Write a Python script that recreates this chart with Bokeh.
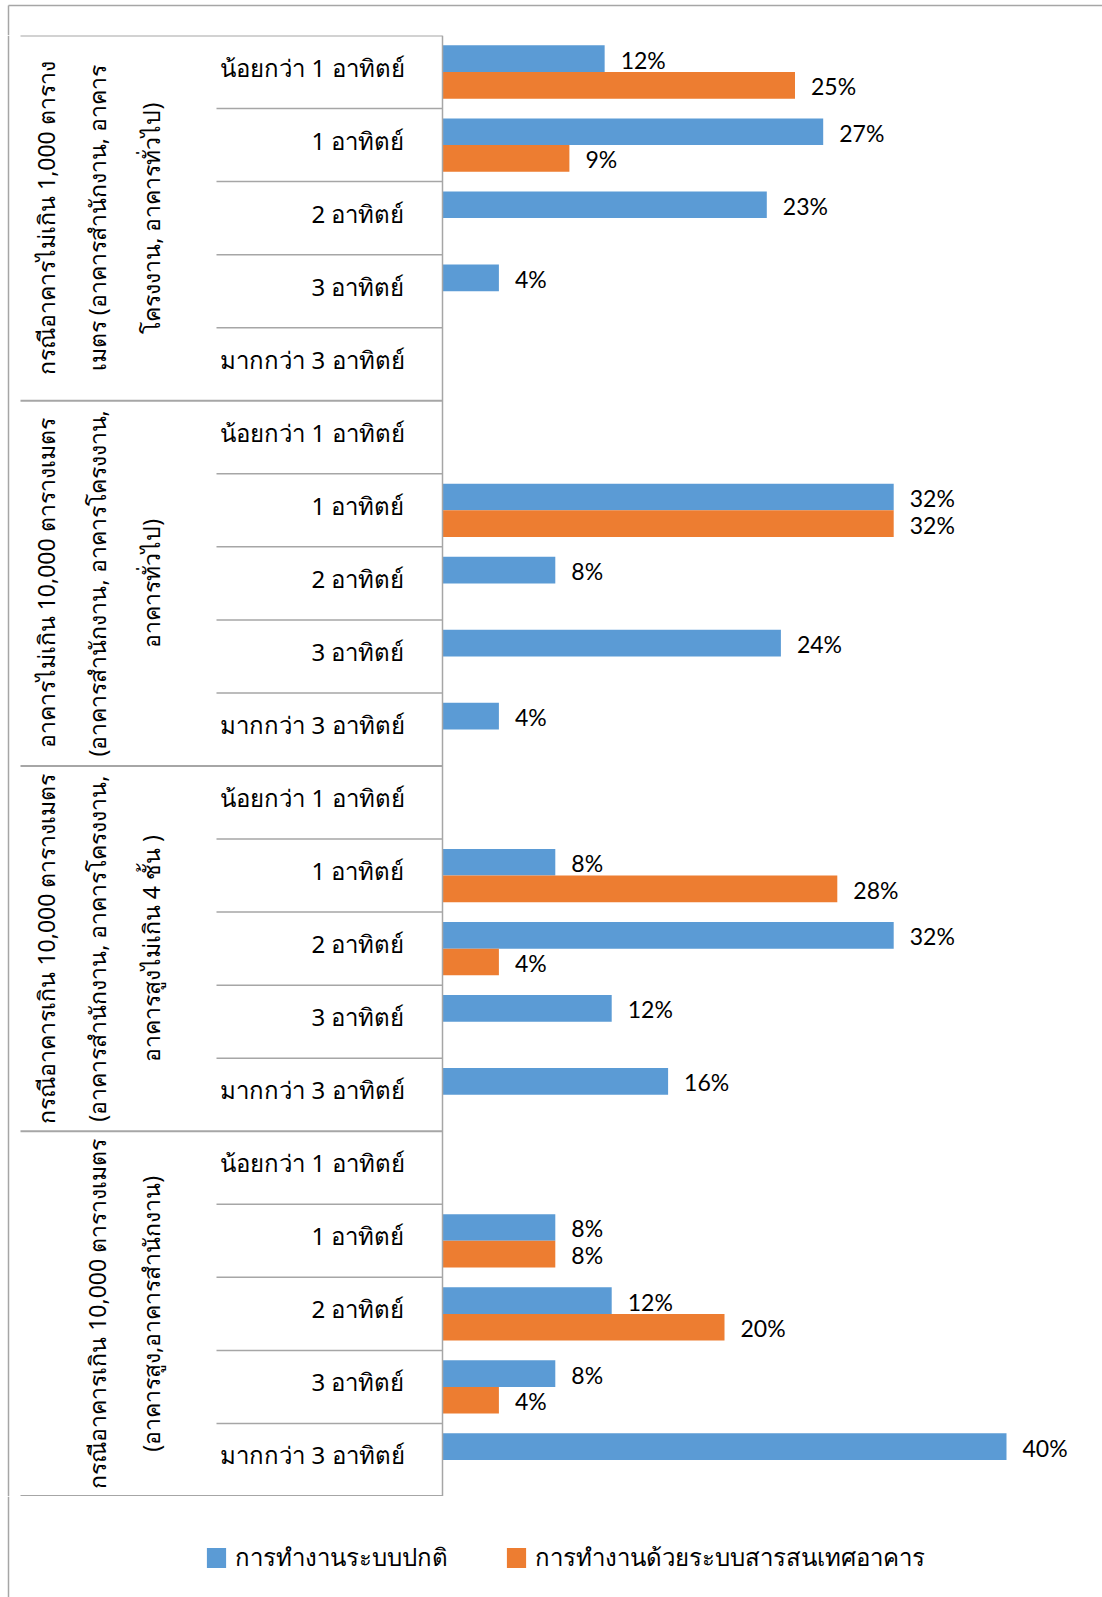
import math
from bokeh.plotting import figure
from bokeh.models import FactorRange, Range1d, ColumnDataSource, Legend, LegendItem, Span
from bokeh.transform import dodge
from bokeh.layouts import column
from bokeh.core.properties import value
from bokeh.embed import file_html
from bokeh.resources import INLINE

# ---------------- data ----------------
group_lines = [
    ["กรณีอาคารไม่เกิน 1,000 ตาราง", "เมตร (อาคารสำนักงาน, อาคาร", "โครงงาน, อาคารทั่วไป)"],
    ["อาคารไม่เกิน 10,000 ตารางเมตร", "(อาคารสำนักงาน, อาคารโครงงาน,", "อาคารทั่วไป)"],
    ["กรณีอาคารเกิน 10,000 ตารางเมตร", "(อาคารสำนักงาน, อาคารโครงงาน,", "อาคารสูงไม่เกิน 4 ชั้น )"],
    ["กรณีอาคารเกิน 10,000 ตารางเมตร", "(อาคารสูง,อาคารสำนักงาน)"],
]
periods = ["น้อยกว่า 1 อาทิตย์", "1 อาทิตย์", "2 อาทิตย์", "3 อาทิตย์", "มากกว่า 3 อาทิตย์"]
series_names = ["การทำงานระบบปกติ", "การทำงานด้วยระบบสารสนเทศอาคาร"]

# percent values, group by group, in the order of `periods` (None = no bar)
normal = [11.5, 27, 23, 4, None,
          None, 32, 8, 24, 4,
          None, 8, 32, 12, 16,
          None, 8, 12, 8, 40]
bms = [25, 9, None, None, None,
       None, 32, None, None, None,
       None, 28, 4, None, None,
       None, 8, 20, 4, None]

# ---------------- styling / layout ----------------
W = 1102
TOP_H, ROWS_H, BOT_H = 35, 1461, 101
AXIS_X = 442.0
PX_PER_PCT = 14.1
BLUE, ORANGE = "#5B9BD5", "#ED7D31"
GRID = "#a6a6a6"
THAI_NAME = "Noto Sans"
THAI = value(THAI_NAME)
NUM = value("Lato")

def u(px):
    return (px - AXIS_X) / PX_PER_PCT

group_keys = [" ".join(l) for l in group_lines]
factors = [(g, s) for g in group_keys for s in periods]
yr = FactorRange(*reversed(factors), factor_padding=0, group_padding=0, range_padding=0)

p = figure(width=W, height=ROWS_H, x_range=Range1d(u(0), u(W)), y_range=yr,
           output_backend="svg", toolbar_location=None,
           x_axis_location=None, y_axis_location=None,
           min_border=0, min_border_left=0, min_border_right=0,
           min_border_top=0, min_border_bottom=0)
p.grid.visible = False
p.outline_line_color = None
p.background_fill_color = "white"

BAR_H = 0.365
OFF = BAR_H / 2

def pct(v):
    return f"{int(v + 0.5)}%"

for vals, color, off in [(normal, BLUE, OFF), (bms, ORANGE, -OFF)]:
    cats = [f for f, v in zip(factors, vals) if v is not None]
    vv = [v for v in vals if v is not None]
    src = ColumnDataSource(dict(cat=cats, val=vv, lab=[pct(v) for v in vv]))
    p.hbar(y=dodge("cat", off, range=yr), left=0, right="val", height=BAR_H,
           fill_color=color, line_color=None, source=src)
    p.text(x="val", y=dodge("cat", off, range=yr), text="lab", source=src,
           x_offset=16, y_offset=1, text_align="left", text_baseline="middle",
           text_font=NUM, text_font_size="23px", text_color="#000000")

# table lines: sub-category separators
sub_cats = [(g, s) for g in group_keys for s in periods[:-1]]
sub_src = ColumnDataSource(dict(cat=sub_cats))
p.segment(x0=u(216), x1=0, y0=dodge("cat", -0.5, range=yr), y1=dodge("cat", -0.5, range=yr),
          line_color=GRID, line_width=1.5, source=sub_src)
# group separators (top edge of each group, and bottom edge of the last)
g_src = ColumnDataSource(dict(cat=[(g, periods[0]) for g in group_keys]))
p.segment(x0=u(20), x1=0, y0=dodge("cat", 0.5, range=yr), y1=dodge("cat", 0.5, range=yr),
          line_color=GRID, line_width=2, source=g_src)
gb_src = ColumnDataSource(dict(cat=[(group_keys[-1], periods[-1])]))
p.segment(x0=u(20), x1=0, y0=dodge("cat", -0.49, range=yr), y1=dodge("cat", -0.49, range=yr),
          line_color=GRID, line_width=1.5, source=gb_src)
# vertical axis line and chart border line
p.add_layout(Span(location=0, dimension="height", line_color=GRID, line_width=1.5))
p.add_layout(Span(location=u(8), dimension="height", line_color=GRID, line_width=1.5))

# sub-category labels
p.text(x=u(404), y="cat", text="lab",
       source=ColumnDataSource(dict(cat=factors, lab=[s for _, s in factors])),
       y_offset=-5, text_align="right", text_baseline="middle", text_font=THAI,
       text_font_size="24px", text_color="#000000")

# group labels (rotated, multi-line)
col_x = [45, 96, 150]
gx, gy, gt = [], [], []
for key, lines in zip(group_keys, group_lines):
    xs = col_x[len(col_x) - len(lines):]
    for x, t in zip(xs, lines):
        gx.append(u(x)); gy.append(key); gt.append(t)
p.text(x="x", y="y", text="t", source=ColumnDataSource(dict(x=gx, y=gy, t=gt)),
       angle=math.pi / 2, text_align="center", text_baseline="middle",
       text_font=THAI, text_font_size="23px", text_color="#000000")

# ---------------- top strip (chart border) ----------------
top = figure(width=W, height=TOP_H, x_range=Range1d(0, W), y_range=Range1d(TOP_H, 0),
             output_backend="svg", toolbar_location=None,
             x_axis_location=None, y_axis_location=None, min_border=0)
top.grid.visible = False
top.outline_line_color = None
top.segment(x0=[8, 8], y0=[5, 5], x1=[8, W], y1=[TOP_H, 5], line_color=GRID, line_width=1.5)

# ---------------- bottom strip with legend ----------------
bot = figure(width=W, height=BOT_H, x_range=Range1d(0, W), y_range=Range1d(BOT_H, 0),
             output_backend="svg", toolbar_location=None,
             x_axis_location=None, y_axis_location=None, min_border=0)
bot.grid.visible = False
bot.outline_line_color = None
bot.segment(x0=[8], y0=[0], x1=[8], y1=[BOT_H], line_color=GRID, line_width=1.5)
# legend swatches (one point each, placed outside the visible range)
r1 = bot.rect(x=[-100], y=[-100], width=1, height=1, fill_color=BLUE, line_color=None)
r2 = bot.rect(x=[-100], y=[-100], width=1, height=1, fill_color=ORANGE, line_color=None)
legend = Legend(items=[LegendItem(label=series_names[0], renderers=[r1]),
                       LegendItem(label=series_names[1], renderers=[r2])],
                orientation="horizontal", location=(204, 20),
                glyph_width=24, glyph_height=25, label_standoff=7, spacing=56,
                padding=0, margin=0, border_line_color=None, background_fill_alpha=0,
                label_text_font=THAI_NAME, label_text_font_size="24px",
                label_text_color="#000000")
bot.add_layout(legend)

layout = column(top, p, bot, spacing=0)
open("out.html", "w").write(file_html(layout, INLINE))
